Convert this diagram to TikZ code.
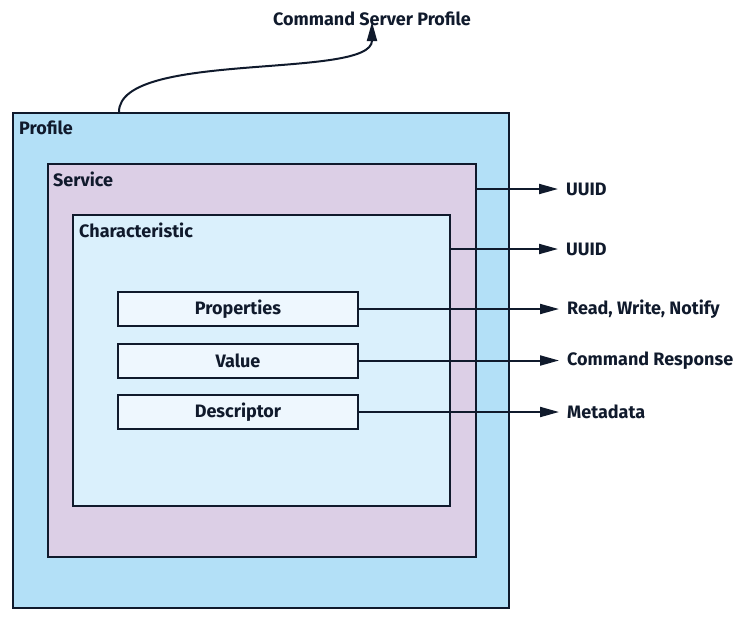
\documentclass[tikz,border=0pt]{standalone}
\usepackage{fontspec}
\setmainfont{Fira Sans}
\usepackage{tikz}
\usetikzlibrary{positioning, arrows.meta}
\definecolor{navy}{HTML}{101A2C}
\definecolor{profblue}{HTML}{B3E0F7}
\definecolor{servlilac}{HTML}{DCCFE6}
\definecolor{charblue}{HTML}{DAF0FC}
\definecolor{attrblue}{HTML}{EEF7FE}
\tikzset{layer/.style={
        draw=navy,
        line width=2pt,
        rectangle,
        inner sep=0pt,
        anchor=north west
}}
\tikzset{attribute/.style={
        draw=navy,
        line width=2pt,
        rectangle,
        fill=attrblue,
        minimum width=240pt,
        minimum height=34pt,
        inner sep=0pt,
        align=center
}}
\tikzset{title/.style={inner sep=0pt, anchor=north west}}
\tikzset{result/.style={inner sep=0pt, inner xsep=8pt, anchor=west}}
\tikzset{dataflowedge/.style={draw=navy,line width=2pt,-{Triangle[length=19pt,width=10pt]}}}

\begin{document}
\begin{tikzpicture}[x=1pt,y=-1pt,every node/.style={font=\fontsize{18}{20}\selectfont\bfseries, text=navy}]
\useasboundingbox (0,0) rectangle (743,621);
\node[layer, fill=profblue, minimum width=496pt, minimum height=495pt] (profile) at (12,112) {};
\node[layer, fill=servlilac, minimum width=428pt, minimum height=393pt] (service) at (47,163) {};
\node[layer, fill=charblue, minimum width=377pt, minimum height=291pt] (charac) at (72,214) {};
\node[title, below right=9pt and 7pt of profile.north west] (proftitle) {Profile};
\node[title, below right=9pt and 6pt of service.north west] (servtitle) {Service};
\node[title, below right=9pt and 7pt of charac.north west] (chartitle) {Characteristic};

\node[attribute] (props) at (238,309) {Properties};
\node[attribute, below=15.5pt of props] (value) {Value};
\node[attribute, below=15.5pt of value] (desc) {Descriptor};

\node[result] (uuida) at (558,189) {UUID};
\node[result] (uuidb) at (558,249) {UUID};
\node[result, right=200pt of props.east] (rwn) {Read, Write, Notify};
\node[result, right=200pt of value.east] (resp) {Command Response};
\node[result, right=200pt of desc.east] (meta) {Metadata};
\node[inner sep=0pt, anchor=south] (cmdprof) at (372,26) {Command Server Profile};

\coordinate (cstart) at ([xshift=107pt]profile.north west);
\draw[dataflowedge] (cstart) .. controls (119,50) and (372,80) .. ([yshift=4pt]cmdprof.south);
\draw[dataflowedge] (service.east |- uuida) -- (uuida);
\draw[dataflowedge] (charac.east |- uuidb) -- (uuidb);
\draw[dataflowedge] (props) -- (rwn);
\draw[dataflowedge] (value) -- (resp);
\draw[dataflowedge] (desc) -- (meta);
\end{tikzpicture}
\end{document}
